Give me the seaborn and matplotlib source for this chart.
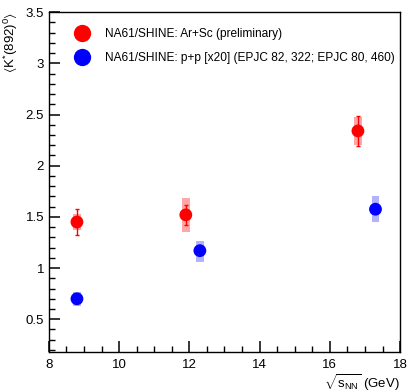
import numpy as np
import pandas as pd
import matplotlib
matplotlib.use('Agg')
import matplotlib.pyplot as plt
import seaborn as sns
from matplotlib.ticker import MultipleLocator, FormatStrFormatter

# Ar+Sc (preliminary)
arsc_energy = [8.8, 11.9, 16.8]
arsc_value = [1.45, 1.52, 2.34]
arsc_stat = [0.125, 0.10, 0.145]
arsc_sys_lo = [1.37, 1.35, 2.20]
arsc_sys_hi = [1.53, 1.68, 2.48]

# p+p [x20]
pp_energy = [8.8, 12.3, 17.3]
pp_value = [0.70, 1.17, 1.575]
pp_sys_lo = [0.63, 1.06, 1.45]
pp_sys_hi = [0.77, 1.26, 1.70]

label_arsc = 'NA61/SHINE: Ar+Sc (preliminary)'
label_pp = 'NA61/SHINE: p+p [x20] (EPJC 82, 322; EPJC 80, 460)'

plt.rcParams['font.family'] = ['Liberation Sans', 'DejaVu Sans']
plt.rcParams['mathtext.fontset'] = 'custom'
plt.rcParams['mathtext.rm'] = 'Liberation Sans'
plt.rcParams['mathtext.it'] = 'Liberation Sans'
plt.rcParams['mathtext.default'] = 'regular'

fig = plt.figure(figsize=(4.07, 3.92), dpi=100)
ax = fig.add_axes([0.120, 0.102, 0.863, 0.867])

df = pd.DataFrame({
    'energy': arsc_energy + pp_energy,
    'value': arsc_value + pp_value,
    'system': [label_arsc] * 3 + [label_pp] * 3,
})

# systematic boxes
ax.bar(arsc_energy, np.array(arsc_sys_hi) - np.array(arsc_sys_lo), bottom=arsc_sys_lo,
       width=0.22, color='red', alpha=0.35, linewidth=0, zorder=1)
ax.bar(pp_energy, np.array(pp_sys_hi) - np.array(pp_sys_lo), bottom=pp_sys_lo,
       width=0.22, color='blue', alpha=0.3, linewidth=0, zorder=1)

# statistical errors
ax.errorbar(arsc_energy, arsc_value, yerr=arsc_stat, fmt='none', ecolor='red',
            elinewidth=1, capsize=1.5, zorder=2)

sns.scatterplot(data=df, x='energy', y='value', hue='system',
                palette=['red', 'blue'], s=85, edgecolor='none', ax=ax, zorder=3)

ax.set_xlim(8, 18)
ax.set_ylim(0.18, 3.5)
ax.xaxis.set_major_locator(MultipleLocator(2))
ax.xaxis.set_minor_locator(MultipleLocator(0.5))
ax.yaxis.set_major_locator(MultipleLocator(0.5))
ax.yaxis.set_minor_locator(MultipleLocator(0.1))
ax.yaxis.set_major_formatter(FormatStrFormatter('%g'))
ax.tick_params(which='major', direction='in', length=8, width=1.1, labelsize=9.5,
               color='black', left=True, bottom=True)
ax.tick_params(which='minor', direction='in', length=4, width=1.0, color='black',
               left=True, bottom=True)
ax.tick_params(axis='x', pad=5)
for s in ax.spines.values():
    s.set_linewidth(1)

ax.set_xlabel(r'$\sqrt{s_{NN}}$ (GeV)', fontsize=9.5, loc='right', labelpad=1)
ax.set_ylabel(r'$\langle$K$^{*}$(892)$^{0}\rangle$', fontsize=9.5, loc='top', labelpad=4)

leg = ax.legend(frameon=False, loc='upper left', bbox_to_anchor=(0.03, 0.985),
                fontsize=8.6, handletextpad=0.9, labelspacing=1.0, markerscale=1.35)

fig.savefig('out.png', dpi=100)
